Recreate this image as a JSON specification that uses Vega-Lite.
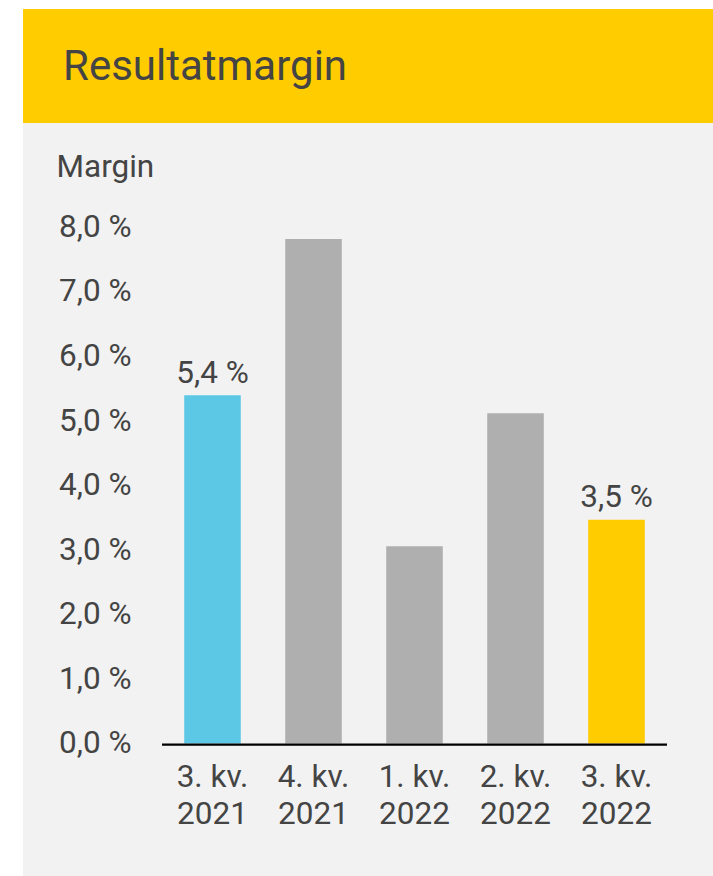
{
  "$schema": "https://vega.github.io/schema/vega-lite/v6.json",
  "background": "white",
  "padding": {"left": 23, "top": 9, "right": 0, "bottom": 0},
  "spacing": 0,
  "config": {
    "font": "Roboto",
    "view": {"stroke": null}
  },
  "vconcat": [
    {
      "width": 690,
      "height": 114,
      "view": {"fill": "#ffcc00", "stroke": null},
      "title": {
        "text": "Resultatmargin",
        "anchor": "start",
        "frame": "group",
        "baseline": "alphabetic",
        "font": "Roboto",
        "fontSize": 42,
        "fontWeight": "normal",
        "color": "#444444",
        "dx": 40,
        "dy": 113,
        "offset": 0
      },
      "data": {"values": []},
      "mark": "rect"
    },
    {
      "width": 690,
      "height": 753,
      "view": {"fill": "#f2f2f2", "stroke": null},
      "data": {
        "values": [
          {"kv": "3. kv. 2021", "v": 5.40, "grp": "a", "lbl": "5,4 %"},
          {"kv": "4. kv. 2021", "v": 7.82, "grp": "b", "lbl": ""},
          {"kv": "1. kv. 2022", "v": 3.06, "grp": "b", "lbl": ""},
          {"kv": "2. kv. 2022", "v": 5.12, "grp": "b", "lbl": ""},
          {"kv": "3. kv. 2022", "v": 3.47, "grp": "c", "lbl": "3,5 %"}
        ]
      },
      "encoding": {
        "x": {
          "field": "kv",
          "type": "nominal",
          "sort": null,
          "scale": {"paddingInner": 0, "paddingOuter": 0.9158, "align": 0.7514},
          "axis": {
            "orient": "bottom",
            "offset": -132.5,
            "title": null,
            "domain": false,
            "ticks": false,
            "tickSize": 0,
            "labelAngle": 0,
            "labelAlign": "center",
            "labelBaseline": "alphabetic",
            "labelPadding": 42.5,
            "labelLineHeight": 37.5,
            "labelFont": "Roboto",
            "labelFontSize": 31.5,
            "labelColor": "#444444",
            "labelExpr": "[slice(datum.label, 0, 6), slice(datum.label, 7)]"
          }
        }
      },
      "layer": [
        {
          "mark": {"type": "bar", "width": {"band": 0.56}},
          "encoding": {
            "y": {
              "field": "v",
              "type": "quantitative",
              "scale": {"domain": [-2.054, 9.62], "nice": false, "zero": false},
              "axis": {
                "orient": "left",
                "offset": -110,
                "values": [0, 1, 2, 3, 4, 5, 6, 7, 8],
                "domain": false,
                "ticks": false,
                "tickSize": 0,
                "grid": false,
                "labelPadding": 2,
                "labelFont": "Roboto",
                "labelFontSize": 31.5,
                "labelColor": "#444444",
                "labelExpr": "replace(format(datum.value, '.1f'), '.', ',') + ' %'",
                "title": "Margin",
                "titleAngle": 0,
                "titleAlign": "left",
                "titleBaseline": "alphabetic",
                "titleX": -77,
                "titleY": 53,
                "titleFont": "Roboto",
                "titleFontSize": 31.5,
                "titleFontWeight": "normal",
                "titleColor": "#444444"
              }
            },
            "y2": {"datum": 0},
            "color": {
              "field": "grp",
              "type": "nominal",
              "scale": {"domain": ["a", "b", "c"], "range": ["#5dc8e6", "#afafaf", "#ffcc00"]},
              "legend": null
            }
          }
        },
        {
          "mark": {"type": "bar", "width": {"band": 1}, "color": "#000000"},
          "encoding": {
            "y": {"datum": 0, "type": "quantitative"},
            "y2": {"datum": -0.036}
          }
        },
        {
          "mark": {
            "type": "text",
            "baseline": "alphabetic",
            "align": "center",
            "dy": -12.5,
            "font": "Roboto",
            "fontSize": 31.5,
            "color": "#444444"
          },
          "encoding": {
            "y": {"field": "v", "type": "quantitative"},
            "text": {"field": "lbl", "type": "nominal"}
          }
        }
      ]
    }
  ]
}
